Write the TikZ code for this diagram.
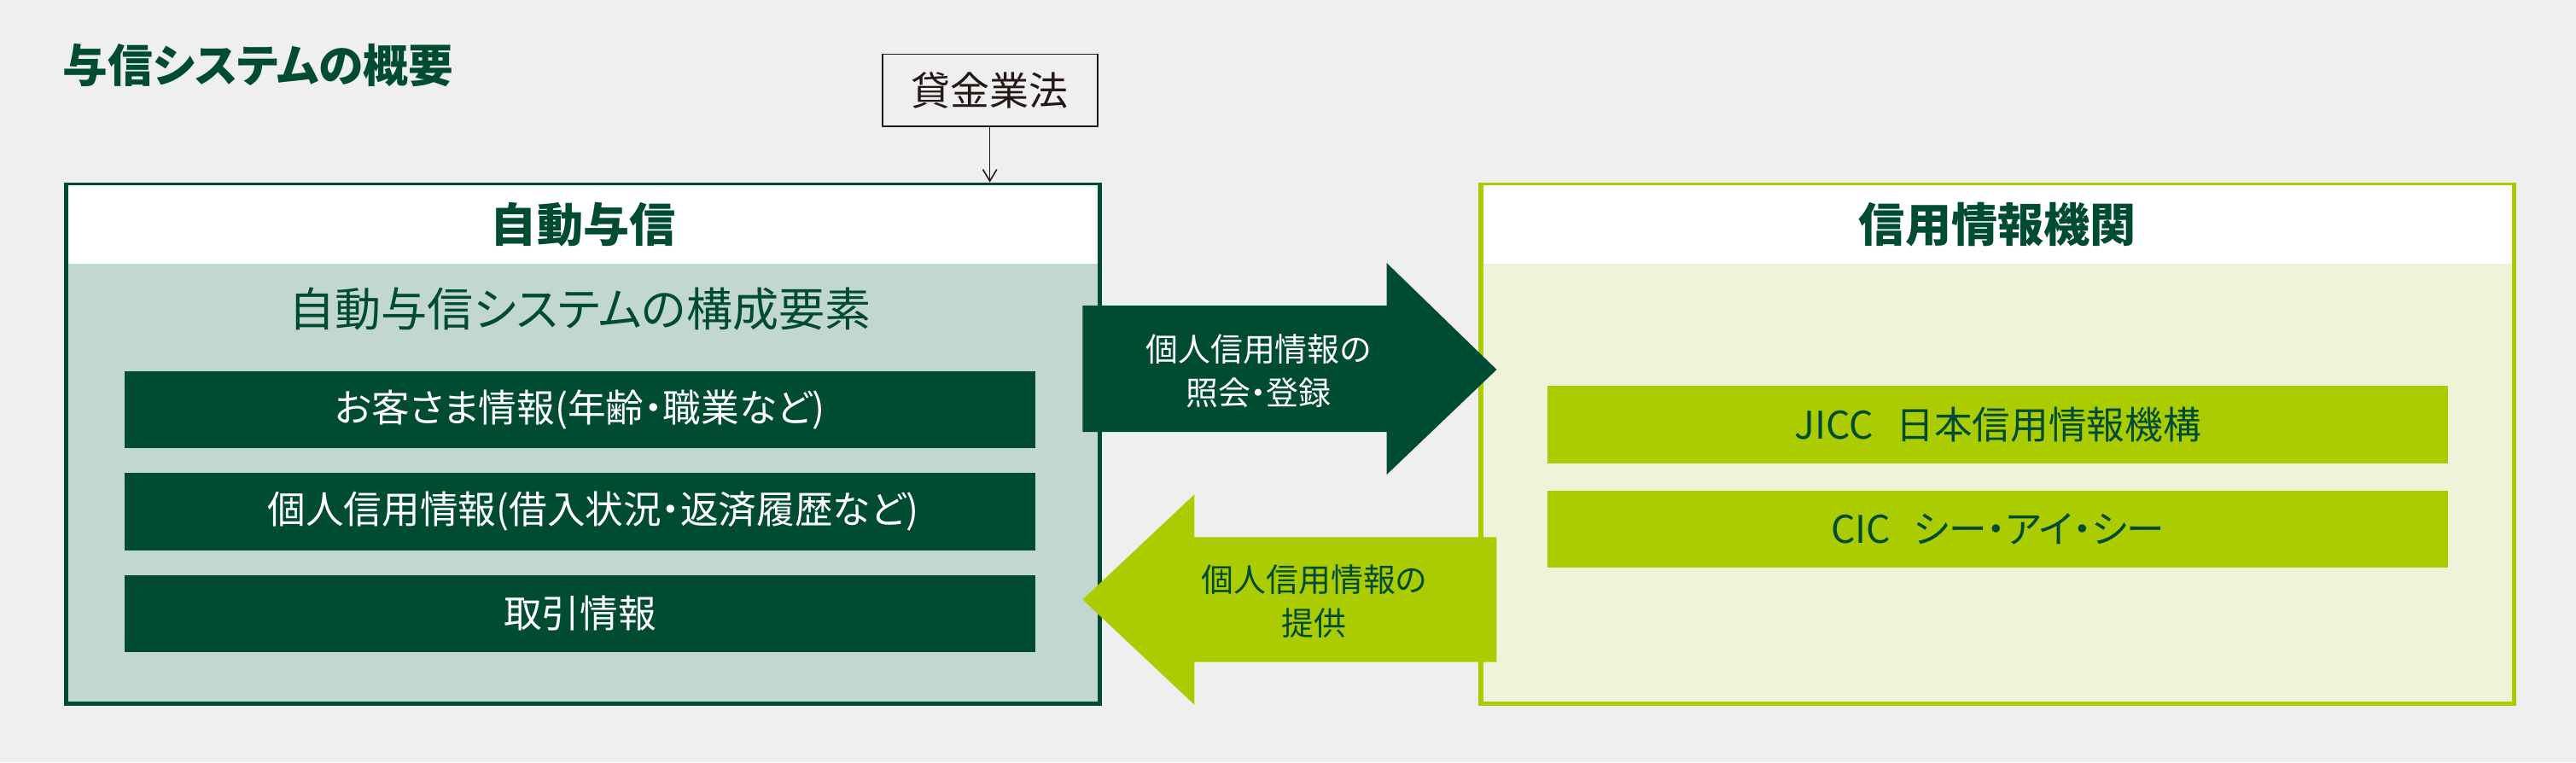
\documentclass[tikz,border=0pt]{standalone}
\usepackage{fontspec}
\setmainfont{Noto Sans CJK JP}[RawFeature=+palt]
\usepackage{tikz}
\usetikzlibrary{arrows.meta,positioning}

\definecolor{dkgreen}{HTML}{004B33}
\definecolor{crlime}{HTML}{AACC00}
\definecolor{paleteal}{HTML}{C2D8CF}
\definecolor{palelime}{HTML}{EEF3DA}
\definecolor{bggray}{HTML}{EFEFEF}
\definecolor{inkblack}{HTML}{231815}

\begin{document}
\begin{tikzpicture}[
                x=0.25mm, y=-0.25mm,
                >={Straight Barb[length=5pt,width=6pt]},
                every node/.style={align=center, inner sep=0pt},
                autobox/.style={rectangle, draw=dkgreen, line width=2pt, fill=paleteal,
                        minimum width=157.25mm, minimum height=79mm},
                bureaubox/.style={rectangle, draw=crlime, line width=2pt, fill=palelime,
                        minimum width=157.25mm, minimum height=79mm},
                headbox/.style={rectangle, fill=white, text=dkgreen,
                        font=\bfseries\fontsize{20}{24}\selectfont,
                        minimum width=157.25mm-2pt, minimum height=12.25mm-1pt},
                itembox/.style={rectangle, fill=dkgreen, text=white,
                        font=\fontsize{16.5}{20}\selectfont,
                        minimum width=138.5mm, minimum height=11.75mm},
                orgbox/.style={rectangle, fill=crlime, text=dkgreen,
                        font=\fontsize{16.5}{20}\selectfont,
                        minimum width=137mm, minimum height=11.75mm},
                lawbox/.style={rectangle, draw=inkblack, line width=0.7pt, text=inkblack,
                        font=\fontsize{17}{20}\selectfont,
                        minimum width=32.75mm, minimum height=11mm},
                flowtext/.style={font=\fontsize{14}{19}\selectfont},
                arr/.style={->, line width=0.6pt, draw=inkblack},
            ]
            \useasboundingbox[fill=bggray] (0,0) rectangle (1568,464);

            \node[anchor=west, text=dkgreen, font=\bfseries\fontsize{19.5}{23}\selectfont]
                (title) at (38,40) {与信システムの概要};

            % left: automatic credit system
            \node[autobox, anchor=north west] (auto) at (39,111) {};
            \node[headbox, anchor=north] (autohd) at ([yshift=-1pt]auto.north) {自動与信};
            \node[text=dkgreen, font=\fontsize{20}{24}\selectfont] (autott) at (353,188)
                {自動与信システムの構成要素};
            \node[itembox] (cust) at (353,249.5) {お客さま情報(年齢・職業など)};
            \node[itembox, below=3.6mm of cust] (credit)
                {\hspace*{4mm}個人信用情報(借入状況・返済履歴など)};
            \node[itembox, below=3.6mm of credit] (trade) {取引情報};

            % right: credit bureaus
            \node[bureaubox, anchor=north west] (bureau) at (900,111) {};
            \node[headbox, anchor=north] (bureauhd) at ([yshift=-1pt]bureau.north) {信用情報機関};
            \node[orgbox] (jicc) at (1216,258.5) {JICC\hspace{0.6em}日本信用情報機構};
            \node[orgbox, below=4mm of jicc] (cic) {CIC\hspace{0.6em}シー・アイ・シー};

            % law box
            \node[lawbox] (law) at (602.5,55) {貸金業法};
            \draw[arr] (law) -- (law |- auto.north);

            % block arrows
            \fill[dkgreen] (659,186) -- (844,186) -- (844,160) -- (911,225)
                -- (844,289) -- (844,263) -- (659,263) -- cycle;
            \node[flowtext, text=white] (query) at (766,226) {個人信用情報の\\照会・登録};
            \fill[crlime] (911,327) -- (727,327) -- (727,301) -- (659,365)
                -- (727,429) -- (727,403) -- (911,403) -- cycle;
            \node[flowtext, text=dkgreen] (supply) at (800,366) {個人信用情報の\\提供};

        \end{tikzpicture}
\end{document}
